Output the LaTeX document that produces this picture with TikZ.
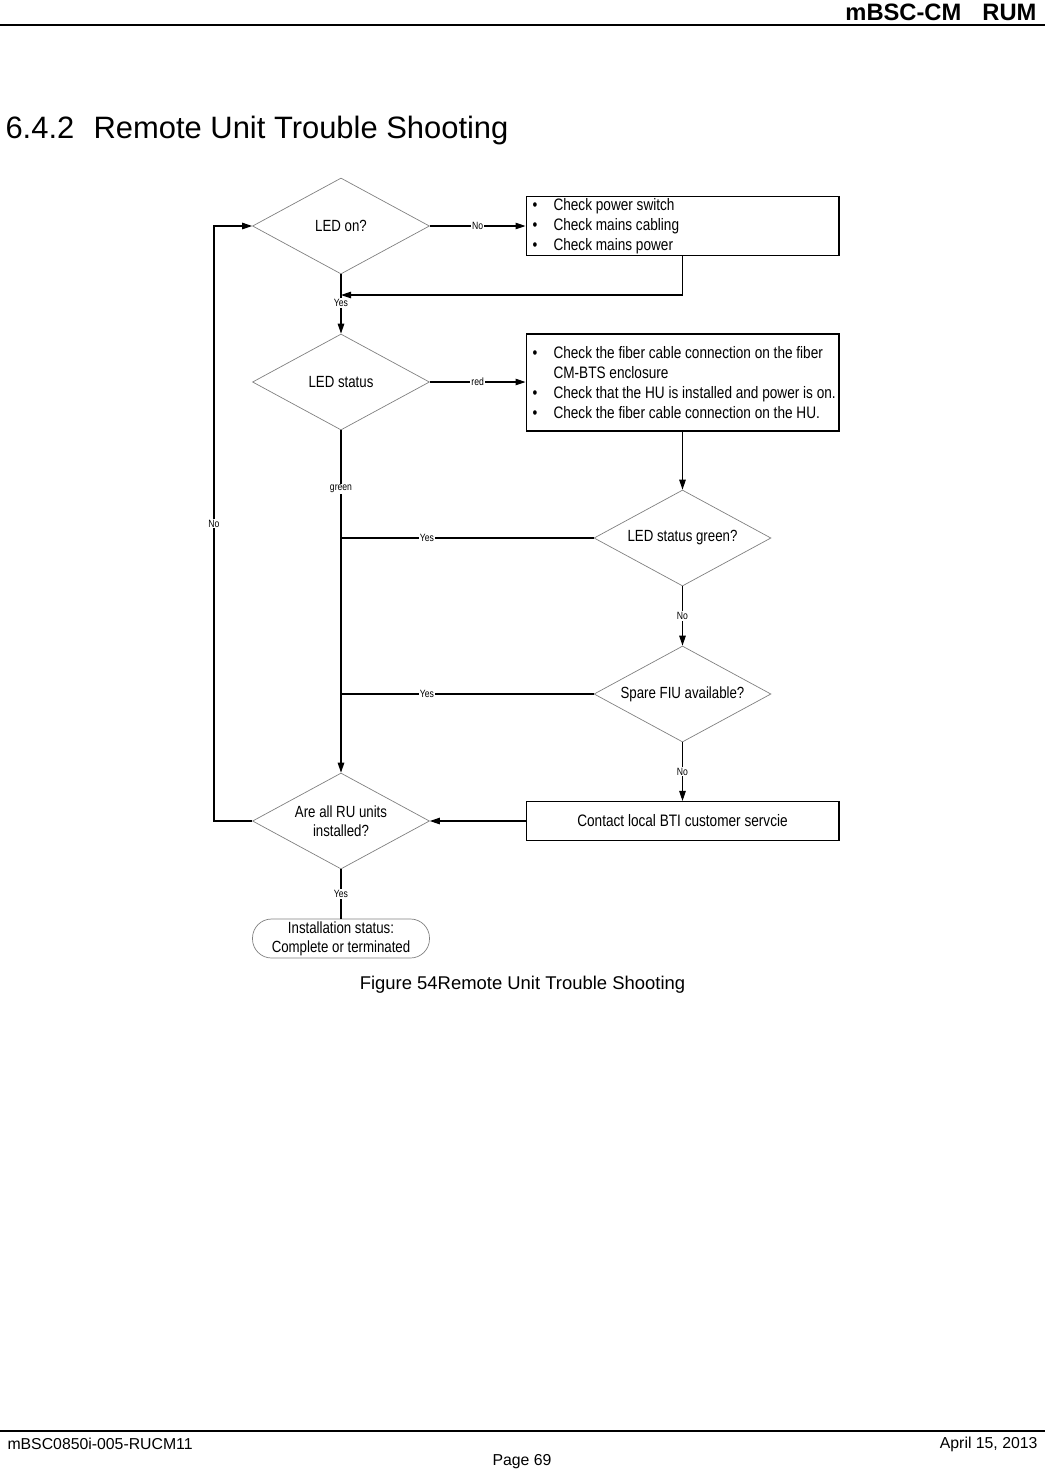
\documentclass[tikz,border=0pt]{standalone}
\usepackage{fontspec}
\setmainfont{Liberation Sans}
\newfontfamily\narrowfont[FakeStretch=0.82]{Liberation Sans}
\usetikzlibrary{shapes.geometric,arrows.meta}
\newcommand{\bitem}[1]{\makebox[6cm][l]{\makebox[0.42cm][l]{\textbullet}#1}}
\newcommand{\bmore}[1]{\makebox[6cm][l]{\hspace*{0.42cm}#1}}
\tikzset{
  decision/.style={diamond, draw=gray, line width=0.4pt, aspect=1.84, inner sep=0pt,
    minimum width=3.54cm, minimum height=1.92cm, align=center,
    font=\narrowfont\fontsize{9.2}{10.8}\selectfont},
  action/.style={rectangle, draw, line width=0.6pt, minimum width=6.26cm, inner xsep=0.13cm,
    inner ysep=0pt, align=left, font=\narrowfont\fontsize{9.45}{11.3}\selectfont},
  terminal/.style={rectangle, rounded corners=0.38cm, draw=gray, line width=0.4pt,
    minimum width=3.54cm, minimum height=0.78cm, inner sep=0pt, align=center,
    font=\narrowfont\fontsize{9.2}{10.8}\selectfont},
  lbl/.style={fill=white, inner sep=0.6pt, font=\narrowfont\fontsize{6}{7}\selectfont},
  pagetext/.style={inner sep=0pt}
}
\begin{document}
\begin{tikzpicture}[x=0.02cm, y=-0.02cm, line width=0.6pt,
    >={Triangle[length=0.2cm,width=0.13cm]}]
    \useasboundingbox (0,0) rectangle (1045,1472);
    % page header and footer
    \node[pagetext, anchor=east, font=\bfseries\fontsize{13.5}{15}\selectfont] (hdr) at (1037,12) {mBSC-CM\hspace{12pt}RUM};
    \draw[line width=1.4pt] (0,25) -- (1045,25);
    \node[pagetext, anchor=base west, font=\fontsize{17.6}{20}\selectfont] (title) at (5,138) {6.4.2\hspace{11pt}Remote Unit Trouble Shooting};
    \node[pagetext, font=\fontsize{10.5}{12}\selectfont] (cap) at (522.5,985) {Figure 54Remote Unit Trouble Shooting};
    \draw (0,1431) -- (1045,1431);
    \node[pagetext, anchor=west, font=\fontsize{9}{11}\selectfont] (docid) at (7,1444) {mBSC0850i-005-RUCM11};
    \node[pagetext, anchor=east, font=\fontsize{9}{11}\selectfont] (date) at (1038,1444) {April 15, 2013};
    \node[pagetext, font=\fontsize{9}{11}\selectfont] (page) at (522,1462) {Page 69};
    % flow chart
    \node[decision] (ledon) at (341,226) {LED on?};
    \node[decision] (ledstat) at (341,382) {LED status};
    \node[decision] (ledgreen) at (682.5,538) {LED status green?};
    \node[decision] (spare) at (682.5,694) {Spare FIU available?};
    \node[decision] (allru) at (341,821) {Are all RU units\\installed?};
    \node[action, minimum height=1.18cm] (power) at (682.5,226) {\bitem{Check power switch}\\\bitem{Check mains cabling}\\\bitem{Check mains power}};
    \node[action, minimum height=1.94cm] (fiber) at (682.5,382.5) {\bitem{Check the fiber cable connection on the fiber}\\\bmore{CM-BTS enclosure}\\\bitem{Check that the HU is installed and power is on.}\\\bitem{Check the fiber cable connection on the HU.}};
    \node[action, minimum height=0.78cm, align=center] (contact) at (682.5,821) {Contact local BTI customer servcie};
    \node[terminal] (done) at (341,938.5) {Installation status:\\Complete or terminated};
    \coordinate (merge) at (341,295);
    \coordinate (loop) at (214,821);
    \draw[->] (ledon.east) -- node[lbl]{No} (power.west);
    \draw[->] (power.south) |- (merge);
    \draw[->] (ledon.south) -- node[lbl, pos=0.48]{Yes} (ledstat.north);
    \draw[->] (ledstat.east) -- node[lbl]{red} (ledstat.east -| fiber.west);
    \draw[->] (fiber.south) -- (ledgreen.north);
    \draw (ledgreen.west) -- node[lbl, pos=0.66]{Yes} (ledgreen.west -| ledstat.south);
    \draw[->] (ledgreen.south) -- node[lbl]{No} (spare.north);
    \draw (spare.west) -- node[lbl, pos=0.66]{Yes} (spare.west -| ledstat.south);
    \draw[->] (spare.south) -- node[lbl]{No} (contact.north);
    \draw[->] (contact.west) -- (allru.east);
    \draw[->] (ledstat.south) -- node[lbl, pos=0.17]{green} (allru.north);
    \draw[->] (allru.west) -- (loop) |- node[lbl, pos=0.25]{No} (ledon.west);
    \draw (allru.south) -- node[lbl]{Yes} (done.north);
\end{tikzpicture}
\end{document}
